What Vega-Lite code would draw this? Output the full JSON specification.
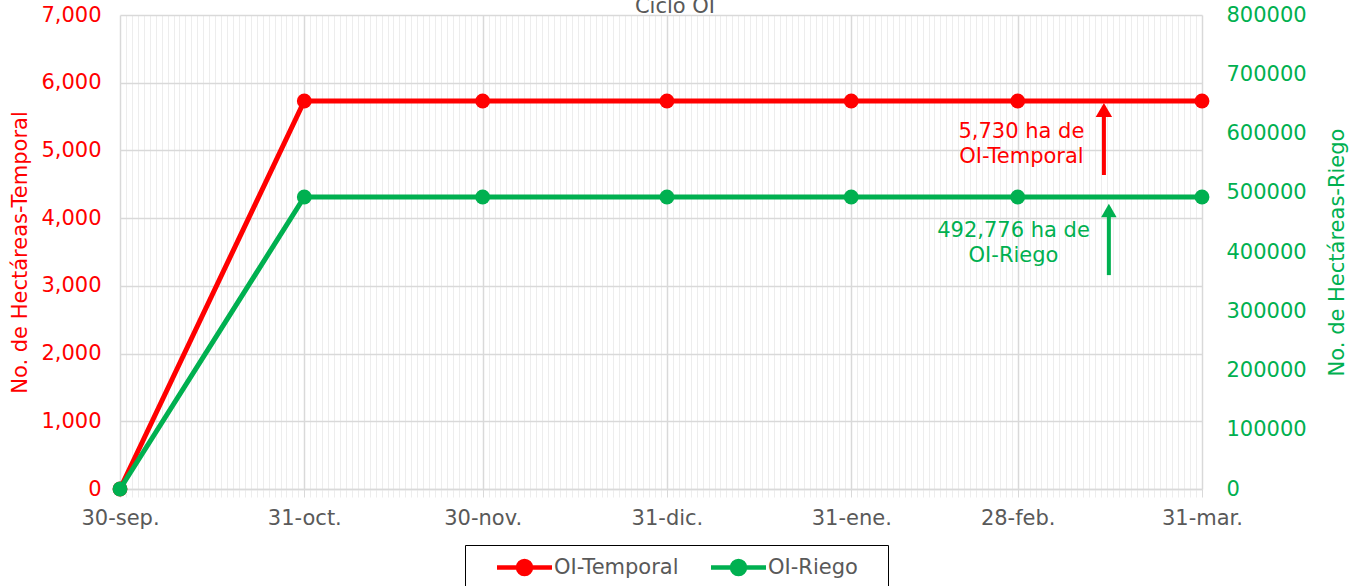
{
  "$schema": "https://vega.github.io/schema/vega-lite/v6.json",
  "width": 1082,
  "height": 474,
  "autosize": {"type": "none"},
  "padding": {"left": 120, "top": 15, "right": 158, "bottom": 97},
  "background": "white",
  "config": {"font": "DejaVu Sans", "view": {"stroke": null}},
  "title": {"text": "Ciclo OI", "fontSize": 21, "fontWeight": "normal", "color": "#595959", "offset": -13, "dx": 14},
  "datasets": {
    "series": [
      {"fecha": "2022-09-30T00:00:00", "serie": "OI-Temporal", "valor": 0},
      {"fecha": "2022-10-31T00:00:00", "serie": "OI-Temporal", "valor": 5730},
      {"fecha": "2022-11-30T00:00:00", "serie": "OI-Temporal", "valor": 5730},
      {"fecha": "2022-12-31T00:00:00", "serie": "OI-Temporal", "valor": 5730},
      {"fecha": "2023-01-31T00:00:00", "serie": "OI-Temporal", "valor": 5730},
      {"fecha": "2023-02-28T00:00:00", "serie": "OI-Temporal", "valor": 5730},
      {"fecha": "2023-03-31T00:00:00", "serie": "OI-Temporal", "valor": 5730},
      {"fecha": "2022-09-30T00:00:00", "serie": "OI-Riego", "valor": 0},
      {"fecha": "2022-10-31T00:00:00", "serie": "OI-Riego", "valor": 492776},
      {"fecha": "2022-11-30T00:00:00", "serie": "OI-Riego", "valor": 492776},
      {"fecha": "2022-12-31T00:00:00", "serie": "OI-Riego", "valor": 492776},
      {"fecha": "2023-01-31T00:00:00", "serie": "OI-Riego", "valor": 492776},
      {"fecha": "2023-02-28T00:00:00", "serie": "OI-Riego", "valor": 492776},
      {"fecha": "2023-03-31T00:00:00", "serie": "OI-Riego", "valor": 492776}
    ],
    "notasT": [{"fecha": "2023-02-28T15:00:00", "valor": 5273, "texto": "5,730 ha de\nOI-Temporal"}],
    "flechaT": [{"fecha": "2023-03-14T12:00:00", "valor": 4637, "valor2": 5597}],
    "puntaT": [{"fecha": "2023-03-14T12:00:00", "valor": 5597}],
    "notasR": [{"fecha": "2023-02-27T07:00:00", "valor": 436000, "texto": "492,776 ha de\nOI-Riego"}],
    "flechaR": [{"fecha": "2023-03-15T08:00:00", "valor": 361000, "valor2": 470000}],
    "puntaR": [{"fecha": "2023-03-15T08:00:00", "valor": 470000}]
  },
  "encoding": {
    "x": {
      "field": "fecha",
      "type": "temporal",
      "scale": {"domain": [{"year": 2022, "month": "sep", "date": 30}, {"year": 2023, "month": "mar", "date": 31}]},
      "axis": {
        "title": null,
        "tickCount": {"interval": "day", "step": 1},
        "labelOverlap": false,
        "labelBound": false,
        "labelFlush": false,
        "labelExpr": "month(+datum.value + 129600000) !== month(datum.value) ? timeFormat(datum.value, '%d') + '-' + ['ene','feb','mar','abr','may','jun','jul','ago','sep','oct','nov','dic'][month(datum.value)] + '.' : ''",
        "labelColor": "#595959",
        "labelFontSize": 21,
        "labelPadding": 10,
        "grid": true,
        "gridColor": {"condition": {"test": "month(+datum.value + 129600000) !== month(datum.value)", "value": "#d9d9d9"}, "value": "#ededed"},
        "gridWidth": {"condition": {"test": "month(+datum.value + 129600000) !== month(datum.value)", "value": 1.5}, "value": 1},
        "tickColor": {"condition": {"test": "month(+datum.value + 129600000) !== month(datum.value)", "value": "#d9d9d9"}, "value": "#ededed"},
        "tickSize": 8,
        "domainColor": "#d9d9d9",
        "domainWidth": 1.5
      }
    }
  },
  "layer": [
    {
      "encoding": {
        "y": {
          "field": "valor",
          "type": "quantitative",
          "scale": {"domain": [0, 7000]},
          "axis": {
            "title": "No. de Hectáreas-Temporal",
            "titleColor": "#ff0000",
            "titleFontSize": 21,
            "titleFontWeight": "normal",
            "titlePadding": 10,
            "labelColor": "#ff0000",
            "labelFontSize": 21,
            "labelPadding": 19,
            "format": ",d",
            "values": [0, 1000, 2000, 3000, 4000, 5000, 6000, 7000],
            "grid": true,
            "gridColor": "#d9d9d9",
            "gridWidth": 1.5,
            "domain": false,
            "ticks": false
          }
        }
      },
      "layer": [
        {
          "data": {"name": "series"},
          "transform": [{"filter": "datum.serie === 'OI-Temporal'"}],
          "mark": {"type": "line", "strokeWidth": 5},
          "encoding": {
            "color": {
              "field": "serie",
              "type": "nominal",
              "scale": {"domain": ["OI-Temporal", "OI-Riego"], "range": ["#ff0000", "#00b050"]},
              "legend": {
                "title": "\u00a0",
                "titleOrient": "right",
                "titlePadding": 20,
                "titleFontSize": 21,
                "orient": "none",
                "legendX": 345,
                "legendY": 530,
                "direction": "horizontal",
                "symbolType": "M-2.75,0L2.75,0M-0.65,0A0.65,0.65,0,1,1,0.65,0A0.65,0.65,0,1,1,-0.65,0Z",
                "symbolSize": 400,
                "symbolStrokeWidth": 4.5,
                "symbolOffset": 37,
                "labelFontSize": 21,
                "labelColor": "#595959",
                "labelOffset": 17,
                "columnPadding": 10,
                "padding": 10,
                "strokeColor": "#000000",
                "fillColor": "#ffffff",
                "encode": {"symbols": {"update": {"fill": {"scale": "color", "field": "value"}, "stroke": {"scale": "color", "field": "value"}}}}
              }
            }
          }
        },
        {
          "data": {"name": "series"},
          "transform": [{"filter": "datum.serie === 'OI-Temporal'"}],
          "mark": {"type": "point", "filled": true, "size": 220, "opacity": 1},
          "encoding": {"color": {"field": "serie", "type": "nominal"}}
        },
        {
          "data": {"name": "flechaT"},
          "mark": {"type": "rule", "color": "#ff0000", "strokeWidth": 4},
          "encoding": {"y2": {"field": "valor2"}}
        },
        {
          "data": {"name": "puntaT"},
          "mark": {"type": "point", "shape": "triangle-up", "filled": true, "size": 270, "color": "#ff0000", "opacity": 1},
          "encoding": {}
        },
        {
          "data": {"name": "notasT"},
          "mark": {"type": "text", "color": "#ff0000", "fontSize": 21, "lineBreak": "\n", "lineHeight": 25, "align": "center", "baseline": "middle"},
          "encoding": {"text": {"field": "texto"}}
        }
      ]
    },
    {
      "encoding": {
        "y": {
          "field": "valor",
          "type": "quantitative",
          "scale": {"domain": [0, 800000]},
          "axis": {
            "orient": "right",
            "title": "No. de Hectáreas-Riego",
            "titleAngle": 270,
            "titleBaseline": "top",
            "titleColor": "#00b050",
            "titleFontSize": 21,
            "titleFontWeight": "normal",
            "titlePadding": 20,
            "labelColor": "#00b050",
            "labelFontSize": 21,
            "labelPadding": 24,
            "format": "d",
            "values": [0, 100000, 200000, 300000, 400000, 500000, 600000, 700000, 800000],
            "grid": false,
            "domain": false,
            "ticks": false
          }
        }
      },
      "layer": [
        {
          "data": {"name": "series"},
          "transform": [{"filter": "datum.serie === 'OI-Riego'"}],
          "mark": {"type": "line", "strokeWidth": 5},
          "encoding": {"color": {"field": "serie", "type": "nominal"}}
        },
        {
          "data": {"name": "series"},
          "transform": [{"filter": "datum.serie === 'OI-Riego'"}],
          "mark": {"type": "point", "filled": true, "size": 220, "opacity": 1},
          "encoding": {"color": {"field": "serie", "type": "nominal"}}
        },
        {
          "data": {"name": "flechaR"},
          "mark": {"type": "rule", "color": "#00b050", "strokeWidth": 4},
          "encoding": {"y2": {"field": "valor2"}}
        },
        {
          "data": {"name": "puntaR"},
          "mark": {"type": "point", "shape": "triangle-up", "filled": true, "size": 240, "color": "#00b050", "opacity": 1},
          "encoding": {}
        },
        {
          "data": {"name": "notasR"},
          "mark": {"type": "text", "color": "#00b050", "fontSize": 21, "lineBreak": "\n", "lineHeight": 25, "align": "center", "baseline": "middle"},
          "encoding": {"text": {"field": "texto"}}
        }
      ]
    }
  ],
  "resolve": {"scale": {"y": "independent"}}
}
